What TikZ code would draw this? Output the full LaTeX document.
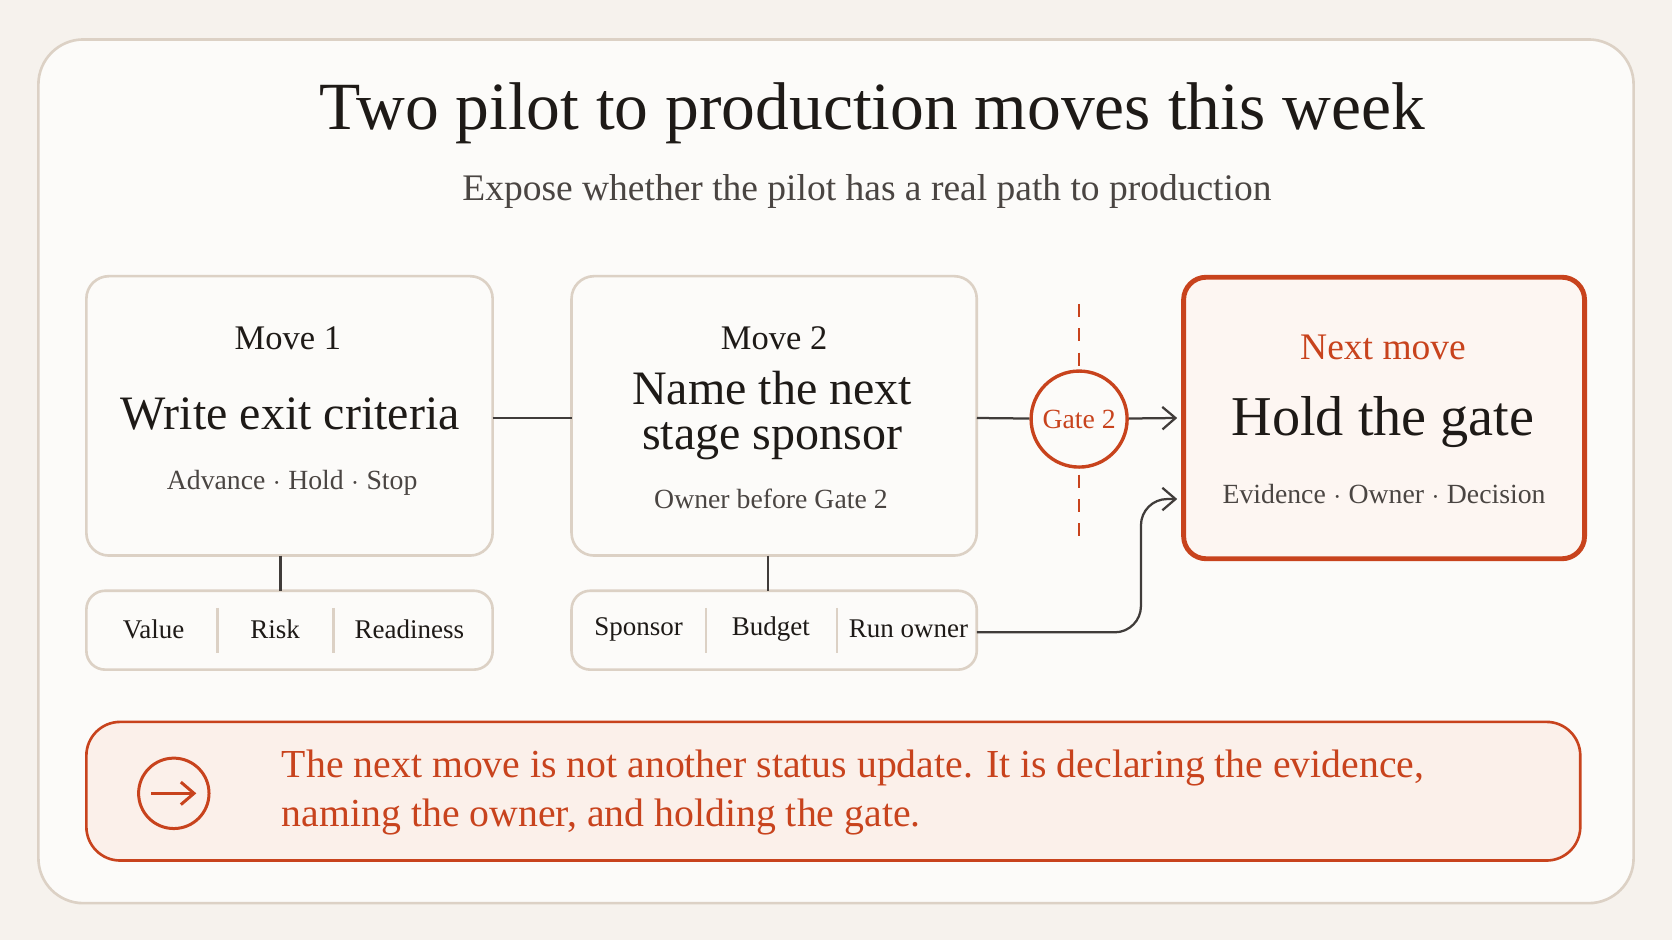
\documentclass[tikz,border=0pt]{standalone}
\usepackage{fontspec}
\setmainfont{Liberation Serif}
\usetikzlibrary{positioning,arrows.meta}
\definecolor{pagebg}{HTML}{F6F2ED}
\definecolor{cardbg}{HTML}{FCFBF9}
\definecolor{edge}{HTML}{DCD1C5}
\definecolor{rust}{HTML}{C8431D}
\definecolor{ink}{HTML}{1E1A17}
\definecolor{grey}{HTML}{4A4542}
\definecolor{calloutbg}{HTML}{FBF0EA}
\begin{document}
\begin{tikzpicture}[x=0.01cm,y=-0.01cm]
	\tikzstyle{card}=[draw=edge,line width=0.7pt,rounded corners=6pt,fill=cardbg]
	\tikzstyle{strip}=[draw=edge,line width=0.7pt,rounded corners=5pt,fill=cardbg]
	\tikzstyle{link}=[draw=ink!85,line width=0.6pt]
	\tikzstyle{tip}=[-{Straight Barb[length=3.5pt,width=6pt]}]
	\tikzstyle{small}=[font=\fontsize{7.4}{9}\selectfont,text=grey]
	\tikzstyle{cell}=[font=\fontsize{7.2}{9}\selectfont,text=ink]
	\tikzstyle{head}=[font=\fontsize{9.2}{11}\selectfont,text=ink]
	\tikzstyle{big}=[font=\fontsize{12.8}{13}\selectfont,text=ink]
	% page and card
	\useasboundingbox (0,0) rectangle (1568,882);
	\fill[pagebg] (0,0) rectangle (1568,882);
	\draw[card,rounded corners=12pt] (36,37) rectangle (1532,847);
	\node[font=\fontsize{18}{20}\selectfont,text=ink] (title) at (818,106) {Two pilot to production moves this week};
	\node[font=\fontsize{10}{12}\selectfont,text=grey] (sub) at (813,180) {Expose whether the pilot has a real path to production};
	% move 1
	\draw[card] (81,259) rectangle (462,521);
	\node[head] (m1) at (270,317) {Move 1};
	\node[big] (m1t) at (272,388) {Write exit criteria};
	\node[small] (m1s) at (274,453) {Advance $\cdot$ Hold $\cdot$ Stop};
	\draw[strip] (81,554) rectangle (462,628);
	\draw[edge,line width=0.7pt] (204,570) -- (204,612) (313,570) -- (313,612);
	\node[cell] (value) at (144,590) {Value};
	\node[cell] (risk) at (258,590) {Risk};
	\node[cell] (ready) at (384,590) {Readiness};
	\coordinate (b1) at (263,521);
	\coordinate (s1) at (263,554);
	\draw[link] (b1) -- (s1);
	% move 2
	\draw[card] (536,259) rectangle (916,521);
	\node[head] (m2) at (726,317) {Move 2};
	\node[big,align=center] (m2t) at (724,390) {Name the next\\[-1pt]stage sponsor};
	\node[small] (m2s) at (723,468) {Owner before Gate 2};
	\draw[strip] (536,554) rectangle (916,628);
	\draw[edge,line width=0.7pt] (662,570) -- (662,612) (785,570) -- (785,612);
	\node[cell] (sponsor) at (599,590) {Sponsor};
	\node[cell] (budget) at (723,590) {Budget};
	\node[cell] (runowner) at (852,590) {Run owner};
	\coordinate (b2) at (720,521);
	\coordinate (s2) at (720,554);
	\draw[link] (b2) -- (s2);
	\coordinate (r1) at (462,392);
	\coordinate (l2) at (536,392);
	\draw[link] (r1) -- (l2);
	% gate
	\draw[rust,line width=0.6pt,dash pattern=on 3.5pt off 3pt] (1012,285) -- (1012,510);
	\node[circle,draw=rust,line width=0.9pt,fill=cardbg,minimum size=0.9cm,inner sep=0pt,
		text=rust,font=\fontsize{7.4}{9}\selectfont] (gate) at (1012,393) {Gate 2};
	\coordinate (r2) at (916,392);
	\draw[link] (r2) -- (gate);
	% next move
	\draw[rust,line width=1.3pt,rounded corners=6pt,fill=calloutbg!60] (1110,260) rectangle (1486,524);
	\node[font=\fontsize{10}{12}\selectfont,text=rust] (nm) at (1297,326) {Next move};
	\node[font=\fontsize{15}{17}\selectfont,text=ink] (hold) at (1297,396) {Hold the gate};
	\node[small] (nms) at (1298,463) {Evidence $\cdot$ Owner $\cdot$ Decision};
	\coordinate (n1) at (1104,392);
	\coordinate (n2) at (1104,468);
	\coordinate (s2r) at (916,593);
	\draw[link,tip] (gate) -- (n1);
	\draw[link,tip,rounded corners=7pt] (s2r) -- (1070,593) -- (1070,468) -- (n2);
	% callout
	\draw[rust,line width=0.7pt,rounded corners=9pt,fill=calloutbg] (81,677) rectangle (1482,807);
	\node[circle,draw=rust,line width=0.8pt,minimum size=0.66cm,inner sep=0pt] (go) at (163,744) {};
	\draw[rust,line width=0.8pt,tip] ([xshift=-6pt]go.center) -- ([xshift=6pt]go.center);
	\node[anchor=west,align=left,text=rust,font=\fontsize{10.6}{13}\selectfont] (msg) at (252,743)
		{The next move is not another status update. It is declaring the evidence,\\naming the owner, and holding the gate.};
\end{tikzpicture}
\end{document}
